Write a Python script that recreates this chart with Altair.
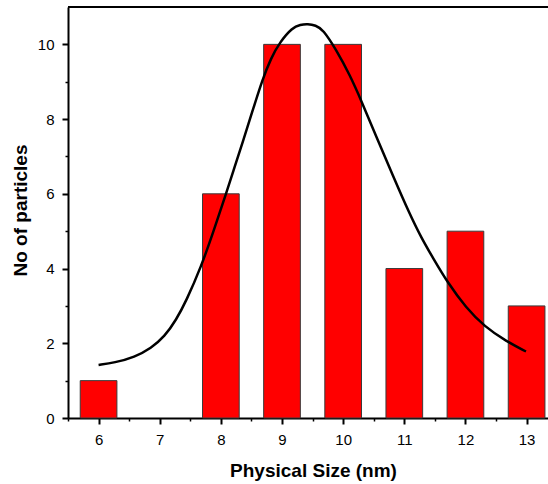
import altair as alt
import pandas as pd

# Histogram bars
sizes = [6, 8, 9, 10, 11, 12, 13]
counts = [1, 6, 10, 10, 4, 5, 3]

# Fitted curve
fit_x = [6.0, 6.26, 6.59, 6.86, 7.08, 7.27, 7.43, 7.68, 7.87, 8.09, 8.22, 8.36, 8.52,
         8.68, 8.82, 8.96, 9.17, 9.30, 9.42, 9.55, 9.67, 9.88, 10.11, 10.30, 10.54,
         10.81, 11.09, 11.28, 11.47, 11.71, 12.01, 12.31, 12.67, 12.99]
fit_y = [1.42, 1.48, 1.63, 1.87, 2.18, 2.63, 3.12, 4.06, 4.95, 6.03, 6.69, 7.40, 8.23,
         9.06, 9.63, 10.05, 10.45, 10.53, 10.55, 10.51, 10.40, 9.87, 9.18, 8.48, 7.54,
         6.50, 5.45, 4.82, 4.28, 3.62, 2.95, 2.45, 2.05, 1.78]

x_major = [6, 7, 8, 9, 10, 11, 12, 13]
x_minor = [5.5, 6.5, 7.5, 8.5, 9.5, 10.5, 11.5, 12.5]
y_major = [0, 2, 4, 6, 8, 10]
y_minor = [1, 3, 5, 7, 9]

bars_df = pd.DataFrame({"size": sizes, "count": counts})
fit_df = pd.DataFrame({"fx": fit_x, "fy": fit_y})

FONT = "Liberation Sans"
xscale = alt.Scale(domain=[5.5, 13.35], zero=False, nice=False)
yscale = alt.Scale(domain=[0, 11], zero=False, nice=False)

bars = (
    alt.Chart(bars_df)
    .transform_calculate(x0="datum.size - 0.3", x1="datum.size + 0.3", base="0")
    .mark_bar(color="#ff0000", stroke="#3a3a3a", strokeWidth=1)
    .encode(
        x=alt.X("x0:Q", scale=xscale, axis=alt.Axis(
            values=x_major, format="d", tickSize=6, tickWidth=2, tickColor="black",
            domainColor="black", domainWidth=2, labelFontSize=15, labelPadding=8,
            labelColor="black", labelFont=FONT, grid=False, labelFlush=False,
            labelAlign="center",
            title="Physical Size (nm)", titleFont=FONT, titleFontSize=19,
            titleFontWeight="bold", titleColor="black", titleX=245, titleY=58,
            titleBaseline="alphabetic", orient="bottom")),
        x2="x1:Q",
        y=alt.Y("count:Q", scale=yscale, axis=alt.Axis(
            values=y_major, format="d", tickSize=6, tickWidth=2, tickColor="black",
            domainColor="black", domainWidth=2, labelFontSize=15, labelPadding=8,
            labelColor="black", labelFont=FONT, grid=False, labelFlush=False,
            labelBaseline="middle",
            title="No of particles", titleFont=FONT, titleFontSize=19,
            titleFontWeight="bold", titleColor="black", titleX=-42, titleY=203,
            titleBaseline="alphabetic", orient="left")),
        y2="base:Q",
    )
)

line = (
    alt.Chart(fit_df)
    .mark_line(color="black", strokeWidth=2.5, interpolate="basis")
    .encode(
        x=alt.X("fx:Q", scale=xscale, axis=alt.Axis(
            values=x_minor, labels=False, tickSize=3, tickWidth=1.5, tickColor="black",
            domain=False, grid=False, title=None, orient="bottom")),
        y=alt.Y("fy:Q", scale=yscale, axis=alt.Axis(
            values=y_minor, labels=False, tickSize=3, tickWidth=1.5, tickColor="black",
            domain=False, grid=False, title=None, orient="left")),
    )
)

top = alt.Chart(bars_df).mark_rule(color="black", strokeWidth=2).encode(
    x=alt.value(0), x2=alt.value(480), y=alt.value(0)
)

chart = (
    alt.layer(bars, line, top)
    .resolve_axis(x="independent", y="independent")
    .properties(
        width=480, height=411,
        autosize=alt.AutoSizeParams(type="none"),
        padding={"left": 68, "top": 7, "right": 0, "bottom": 66},
        background="white",
    )
    .configure_view(stroke=None)
)

chart.save("out.html", embed_options={"renderer": "svg", "actions": False})
